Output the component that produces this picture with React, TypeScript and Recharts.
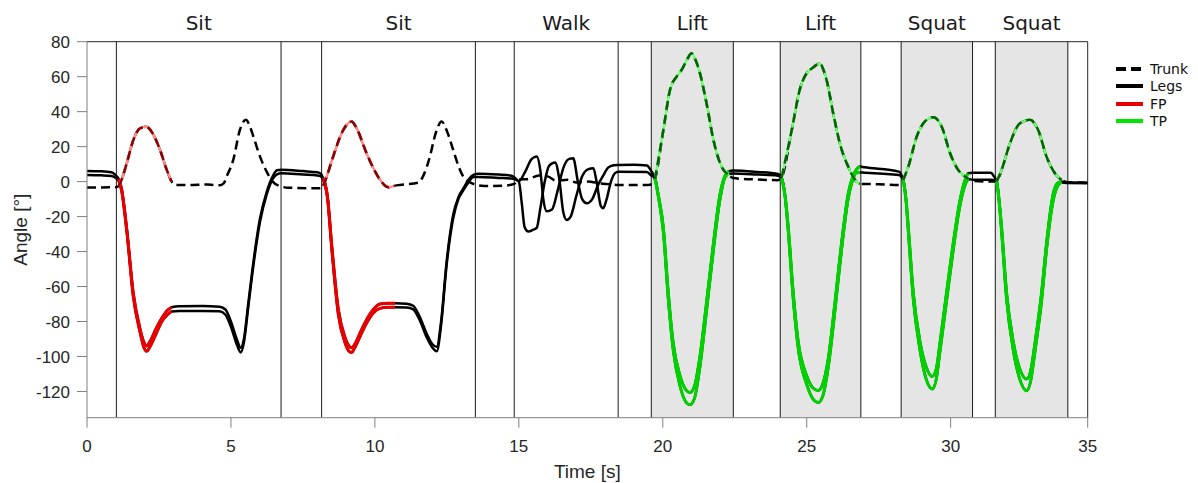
import { LineChart, Line, XAxis, YAxis, ReferenceArea, ReferenceLine } from 'recharts'

// time axis ends a bit before 35 s, the last tick is labelled 35 at the frame edge
const X_END = 34.76
const xTicks = [0, 5, 10, 15, 20, 25, 30, X_END]
const yTicks = [-120, -100, -80, -60, -40, -20, 0, 20, 40, 60, 80]

const segNames = ['Sit', 'Sit', 'Walk', 'Lift', 'Lift', 'Squat', 'Squat']
const segStart = [1.02, 8.15, 14.84, 19.6, 24.08, 28.28, 31.55]
const segEnd = [6.74, 13.49, 18.45, 22.45, 26.88, 30.76, 34.07]
const segShaded = [false, false, false, true, true, true, true]

// highlighted phases
const fpWindows: [number, number][] = [[1.1, 2.94], [8.2, 10.7]]
const tpWindows: [number, number][] = [[19.73, 22.3], [24.13, 26.85], [28.35, 30.61], [31.6, 33.85]]

// [time s, angle deg]
const trunk: [number, number][] = [
  [0, -3.4], [0.5, -3.3], [1.0, -3.2], [1.1, -2.5], [1.2, 1], [1.38, 10.5], [1.61, 23.8], [1.84, 30.5],
  [2.07, 31.4], [2.15, 30.5], [2.3, 27], [2.54, 18], [2.77, 6.7], [2.94, 0], [3.1, -2], [3.5, -2],
  [4.2, -1.7], [4.6, -2.1], [4.75, -1], [4.85, 2.9], [5.08, 12.4], [5.31, 29.5], [5.52, 35.3], [5.65, 32],
  [5.78, 25.7], [6.01, 14.3], [6.24, 5.7], [6.45, 0], [6.72, -2.7], [7.0, -3.5], [8.1, -3.8], [8.2, -2.5],
  [8.35, 4], [8.55, 14.3], [8.9, 29.5], [9.19, 34.3], [9.35, 31], [9.71, 16.2], [10.0, 6], [10.18, 1],
  [10.47, -3.2], [10.7, -2.3], [10.87, -1.9], [11.51, -0.6], [11.7, 4], [11.91, 14.3], [12.1, 27],
  [12.32, 34.3], [12.5, 29], [12.72, 18.1], [12.9, 9], [13.07, 2.9], [13.42, -1.3], [13.8, -2.5],
  [14.5, -2.3], [14.84, -1.3], [15.0, 1.2], [15.3, 1.4], [15.7, 3.5], [16.0, 3], [16.3, 0.5], [16.7, 1],
  [17.0, -0.5], [17.4, 0], [17.8, -1], [18.2, -1.5], [18.45, -1.9], [19.5, -1.9], [19.65, -1.2],
  [19.73, 1.5], [20.02, 29.5], [20.25, 52.4], [20.48, 60], [20.66, 64], [20.85, 70], [21.0, 73.4],
  [21.1, 71], [21.29, 62], [21.52, 44.8], [21.76, 23.8], [22.04, 8.6], [22.3, 3.8], [22.45, 2],
  [23.3, 1.2], [24.0, 0.8], [24.13, 2.5], [24.48, 29.5], [24.77, 53.3], [25.0, 62], [25.2, 65],
  [25.46, 67.6], [25.6, 63], [25.69, 58.1], [25.92, 39], [26.15, 21.9], [26.44, 8.6], [26.73, 0],
  [26.85, -1.3], [27.5, -1.5], [28.2, -1.9], [28.35, 1], [28.53, 8.6], [28.82, 25.7], [29.1, 34.3],
  [29.4, 36.8], [29.69, 31.4], [29.98, 16.2], [30.26, 6.7], [30.5, 2.9], [30.61, 1.5], [30.76, 0.5],
  [31.4, 0], [31.6, 0], [31.77, 6.7], [32.06, 21.9], [32.41, 33.4], [32.75, 35.3], [33.04, 29.5],
  [33.33, 14.3], [33.62, 4.8], [33.85, 1], [34.07, -0.4], [X_END, -0.6],
]

const legsUpper: [number, number][] = [
  [0, 6.1], [0.5, 5.9], [0.85, 5.3], [1.0, 3.5], [1.1, 1.5], [1.2, -4], [1.38, -27], [1.61, -64],
  [1.84, -84], [1.98, -92], [2.07, -94], [2.2, -91], [2.4, -84], [2.6, -78], [2.8, -73.5], [2.94, -71.8],
  [3.2, -71.3], [4.0, -71.2], [4.6, -71.5], [4.8, -73], [5.0, -80], [5.2, -90], [5.34, -95], [5.45, -90],
  [5.6, -70], [5.78, -46], [6.01, -21], [6.24, -6], [6.45, 3], [6.6, 6.5], [6.75, 6.8], [7.5, 6],
  [8.0, 5.3], [8.12, 4.5], [8.2, 2], [8.27, -1], [8.35, -8], [8.5, -36], [8.73, -73], [8.96, -89],
  [9.1, -94], [9.19, -95], [9.3, -93], [9.5, -86], [9.71, -79], [9.95, -73], [10.18, -70], [10.45, -69.5],
  [10.7, -69.5], [11.1, -69.8], [11.33, -71], [11.55, -77], [11.8, -87], [12.0, -93], [12.15, -94.5],
  [12.3, -80], [12.49, -46], [12.72, -19], [12.9, -9], [13.07, -4], [13.25, 1], [13.42, 3.8], [13.6, 4.5],
  [14.3, 4], [14.7, 3.5], [14.84, 2.5], [15.0, 0.3], [15.2, 5], [15.45, 13], [15.62, 14.3], [15.75, 6],
  [15.85, -10], [15.97, -17], [16.15, -16], [16.35, -5], [16.55, 8], [16.75, 13], [16.89, 13.3],
  [17.05, 0], [17.2, -10], [17.36, -12.4], [17.55, -10], [17.75, -2], [17.95, 4], [18.1, 8], [18.3, 9.3],
  [18.45, 9.5], [19.0, 9.6], [19.45, 9.2], [19.6, 6], [19.73, 1.9], [19.85, -8], [20.02, -26],
  [20.19, -63], [20.36, -92], [20.6, -111], [20.8, -119], [20.94, -120.6], [21.1, -117], [21.29, -100],
  [21.52, -69], [21.76, -35], [21.99, -7], [22.15, 3], [22.3, 6], [22.45, 6.3], [23.3, 5.5], [24.0, 4.4],
  [24.13, 1.9], [24.25, -8], [24.36, -26], [24.53, -63], [24.71, -92], [25.0, -111], [25.25, -118.5],
  [25.4, -119.4], [25.55, -116], [25.75, -101], [25.98, -69], [26.21, -35], [26.44, -7], [26.6, 3],
  [26.73, 7], [26.85, 8.6], [27.0, 8.2], [28.2, 5.7], [28.35, 1], [28.45, -10], [28.53, -26],
  [28.7, -63], [28.93, -91], [29.15, -106], [29.36, -111.4], [29.5, -107], [29.63, -92], [29.86, -63],
  [30.09, -35], [30.32, -11], [30.5, 1], [30.61, 4.8], [30.76, 5.1], [31.4, 5.1], [31.5, 3], [31.6, 0],
  [31.68, -10], [31.77, -26], [31.94, -63], [32.17, -91], [32.4, -107], [32.64, -112.9], [32.78, -108],
  [32.93, -92], [33.16, -63], [33.33, -35], [33.56, -7], [33.7, -1], [33.85, 0], [34.07, -0.5],
  [X_END, -0.6],
]

const legsLower: [number, number][] = [
  [0, 3.8], [0.5, 3.6], [0.85, 3.2], [1.0, 2], [1.1, 0.5], [1.2, -5], [1.38, -28], [1.61, -66],
  [1.84, -86], [1.98, -95], [2.07, -97], [2.2, -94], [2.4, -87], [2.6, -80], [2.8, -76], [2.94, -74.3],
  [3.2, -74], [4.0, -74], [4.6, -74.2], [4.8, -76], [5.0, -83], [5.2, -93], [5.34, -97.7], [5.45, -92],
  [5.6, -72], [5.78, -48], [6.01, -23], [6.24, -7.5], [6.45, 1.5], [6.6, 4.2], [6.75, 4.8], [7.5, 4],
  [8.0, 3.5], [8.12, 3], [8.2, 1], [8.27, -2], [8.35, -9], [8.5, -38], [8.73, -76], [8.96, -92],
  [9.1, -97], [9.19, -97.7], [9.3, -95], [9.5, -88], [9.71, -81], [9.95, -75], [10.18, -72.5],
  [10.45, -71.8], [10.7, -71.8], [11.1, -72], [11.33, -73], [11.55, -79], [11.8, -89], [12.0, -95],
  [12.15, -97], [12.3, -82], [12.49, -48], [12.72, -21], [12.9, -10], [13.07, -5], [13.25, -0.5],
  [13.42, 2.6], [13.6, 2.6], [14.3, 2.1], [14.7, 1.8], [14.84, 1.5], [15.0, 0], [15.1, -12], [15.2, -26],
  [15.33, -28.6], [15.5, -27.5], [15.62, -26.5], [15.75, -15], [15.9, 0], [16.05, 9], [16.26, 10.9],
  [16.4, 2], [16.55, -18], [16.66, -21.9], [16.8, -20], [17.0, -8], [17.2, 3], [17.4, 7], [17.59, 7.6],
  [17.7, 0], [17.85, -14], [17.93, -15.2], [18.05, -10], [18.2, 0], [18.35, 5], [18.45, 5.7],
  [19.45, 5.5], [19.6, 3.5], [19.73, 1.9], [19.85, -9], [20.02, -29], [20.19, -67], [20.36, -96],
  [20.6, -117], [20.8, -126], [20.94, -127.6], [21.1, -124], [21.29, -106], [21.52, -74], [21.76, -39],
  [21.99, -10], [22.15, 2], [22.3, 4.5], [22.45, 4.6], [23.3, 4], [24.0, 3.4], [24.13, 1.9], [24.25, -9],
  [24.36, -29], [24.53, -67], [24.71, -96], [25.0, -116], [25.25, -125], [25.4, -126.3], [25.55, -123],
  [25.75, -106], [25.98, -74], [26.21, -39], [26.44, -10], [26.6, 1], [26.73, 5], [26.85, 5.2],
  [27.0, 5.1], [28.2, 3.8], [28.35, 1], [28.45, -11], [28.53, -29], [28.7, -67], [28.93, -96],
  [29.15, -113], [29.36, -118.6], [29.5, -113], [29.63, -97], [29.86, -68], [30.09, -39], [30.32, -14],
  [30.5, -2], [30.61, 1.5], [30.76, 1], [31.4, 1], [31.6, 0], [31.68, -11], [31.77, -29], [31.94, -67],
  [32.17, -96], [32.4, -113], [32.64, -119.6], [32.78, -114], [32.93, -97], [33.16, -68], [33.33, -39],
  [33.56, -11], [33.7, -3], [33.85, -0.5], [34.07, -0.8], [X_END, -0.9],
]

const toPts = (arr: [number, number][]) => arr.map(([t, v]) => ({ t, v }))
const cut = (arr: [number, number][], [s, e]: [number, number]) =>
  toPts(arr.filter(([t]) => t >= s - 1e-6 && t <= e + 1e-6))

const AXIS_FONT = 'Liberation Sans, Arial, sans-serif'
const LABEL_FONT = 'DejaVu Sans, Verdana, sans-serif'
const DASH = '9 5'

const legendItems = [
  { name: 'Trunk', color: '#000', dash: '10 5' },
  { name: 'Legs', color: '#000', dash: undefined },
  { name: 'FP', color: '#e60000', dash: undefined },
  { name: 'TP', color: '#00e600', dash: undefined },
]

function LegendBox() {
  return (
    <div style={{ position: 'absolute', left: 1116, top: 60, fontFamily: LABEL_FONT, fontSize: 14, color: '#111' }}>
      {legendItems.map((it) => (
        <div key={it.name} style={{ display: 'flex', alignItems: 'center', height: 17.5 }}>
          <svg width={27} height={6} style={{ marginRight: 7 }}>
            <line x1={0} y1={3} x2={27} y2={3} stroke={it.color} strokeWidth={4} strokeDasharray={it.dash} />
          </svg>
          <span>{it.name}</span>
        </div>
      ))}
    </div>
  )
}

function highlight(windows: [number, number][], legColor: string, trunkLight: string, trunkDark: string, key: string) {
  return windows.flatMap((w, i) => [
    <Line key={`${key}-lu-${i}`} data={cut(legsUpper, w)} dataKey="v" type="monotone" stroke={legColor} strokeWidth={3} dot={false} activeDot={false} isAnimationActive={false} />,
    <Line key={`${key}-ll-${i}`} data={cut(legsLower, w)} dataKey="v" type="monotone" stroke={legColor} strokeWidth={3} dot={false} activeDot={false} isAnimationActive={false} />,
    <Line key={`${key}-tl-${i}`} data={cut(trunk, w)} dataKey="v" type="monotone" stroke={trunkLight} strokeWidth={2.5} dot={false} activeDot={false} isAnimationActive={false} />,
    <Line key={`${key}-td-${i}`} data={cut(trunk, w)} dataKey="v" type="monotone" stroke={trunkDark} strokeWidth={2.5} strokeDasharray={DASH} dot={false} activeDot={false} isAnimationActive={false} />,
  ])
}

export default function App() {
  const bounds = Array.from(new Set([...segStart, ...segEnd]))
  return (
    <div style={{ position: 'absolute', left: 0, top: 0, width: 1198, height: 483, background: '#fff' }}>
      <LineChart width={1198} height={483} margin={{ top: 41.7, right: 110.3, bottom: 35.3, left: 27 }}>
        <XAxis
          type="number"
          dataKey="t"
          domain={[0, X_END]}
          ticks={xTicks}
          tickFormatter={(v: number) => (v > 34 ? '35' : String(v))}
          allowDataOverflow
          height={30}
          tickSize={10}
          tickMargin={12}
          stroke="#808080"
          tick={{ fill: '#262626', fontSize: 17, fontFamily: AXIS_FONT }}
          label={{ value: 'Time [s]', position: 'bottom', offset: 17, fill: '#262626', fontSize: 19, fontFamily: AXIS_FONT }}
        />
        <YAxis
          type="number"
          domain={[-135, 80]}
          ticks={yTicks}
          allowDataOverflow
          width={60}
          tickSize={10}
          tickMargin={7}
          stroke="#808080"
          tick={{ fill: '#262626', fontSize: 17, fontFamily: AXIS_FONT }}
          label={{ value: 'Angle [°]', position: 'center', angle: -90, dx: -37, fill: '#262626', fontSize: 19, fontFamily: AXIS_FONT }}
        />
        {segNames.map((name, i) => (
          <ReferenceArea
            key={`seg-${i}`}
            x1={segStart[i]}
            x2={segEnd[i]}
            fill={segShaded[i] ? '#e5e5e5' : '#fff'}
            fillOpacity={segShaded[i] ? 1 : 0}
            stroke="none"
            label={{ value: name, position: 'top', offset: 12, fill: '#1a1a1a', fontSize: 20, fontFamily: LABEL_FONT }}
          />
        ))}
        {bounds.map((x) => (
          <ReferenceLine key={`b-${x}`} x={x} stroke="#1a1a1a" strokeWidth={1} />
        ))}
        <ReferenceLine y={80} stroke="#262626" strokeWidth={1} />
        <ReferenceLine x={X_END} stroke="#262626" strokeWidth={1} />

        <Line data={toPts(trunk)} dataKey="v" type="monotone" stroke="#000" strokeWidth={2.5} strokeDasharray={DASH} dot={false} activeDot={false} isAnimationActive={false} />
        <Line data={toPts(legsUpper)} dataKey="v" type="monotone" stroke="#000" strokeWidth={2.5} dot={false} activeDot={false} isAnimationActive={false} />
        <Line data={toPts(legsLower)} dataKey="v" type="monotone" stroke="#000" strokeWidth={2.5} dot={false} activeDot={false} isAnimationActive={false} />

        {highlight(fpWindows, '#e60000', '#ff8c8c', '#8b0000', 'fp')}
        {highlight(tpWindows, '#00d200', '#70ff70', '#006400', 'tp')}
      </LineChart>
      <LegendBox />
    </div>
  )
}
